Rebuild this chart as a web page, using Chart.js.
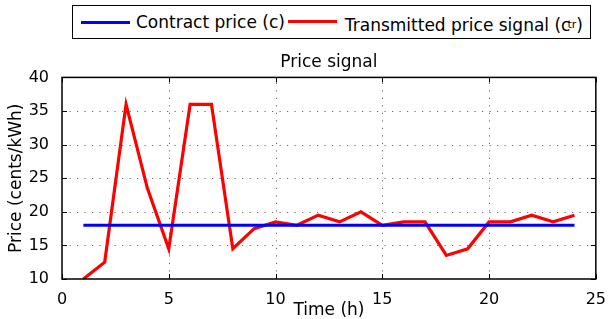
<!DOCTYPE html>
<html>
<head>
<meta charset="utf-8">
<script src="https://cdn.jsdelivr.net/npm/chart.js@4"></script>
<style>
  body { margin: 0; background: #fff; font-family: "DejaVu Sans", sans-serif; }
  #wrap { position: relative; width: 609px; height: 319px; }
  #legend {
    position: absolute; left: 72px; top: 5px; width: 517px; height: 32px;
    border: 1px solid #000; background: #fff; display: flex; align-items: center;
    font-size: 17px; color: #000; white-space: nowrap;
  }
  .item { display: flex; align-items: center; }
  .swatch { display: inline-block; width: 49px; height: 3px; }
  sup { font-size: 11px; margin-left: -3px; }
</style>
</head>
<body>
<div id="wrap">
  <canvas id="priceChart" width="609" height="319"></canvas>
  <div id="legend">
    <span class="item"><span class="swatch" style="background:#0000ff;margin:0 6px 0 8px"></span>Contract price (c)</span>
    <span class="item" style="margin-top:5px"><span class="swatch" style="background:#ff0000;margin:-7px 8px 0 3px"></span>Transmitted price signal (c<sup>tr</sup>)</span>
  </div>
</div>
<script>
const hours = [1, 2, 3, 4, 5, 6, 7, 8, 9, 10, 11, 12, 13, 14, 15, 16, 17, 18, 19, 20, 21, 22, 23, 24];
const contractPrice = [18, 18, 18, 18, 18, 18, 18, 18, 18, 18, 18, 18, 18, 18, 18, 18, 18, 18, 18, 18, 18, 18, 18, 18];
const transmittedPrice = [10, 12.5, 36, 23.5, 14.5, 36, 36, 14.5, 17.5, 18.5, 18, 19.5, 18.5, 20, 18, 18.5, 18.5, 13.5, 14.5, 18.5, 18.5, 19.5, 18.5, 19.5];
const xTicks = [0, 5, 10, 15, 20, 25];
const yTicks = [10, 15, 20, 25, 30, 35, 40];

const fontFamily = '"DejaVu Sans", sans-serif';

// dotted grid, then MATLAB style box with inward ticks on all four sides
const boxPlugin = {
    id: 'boxPlugin',
    beforeDatasetsDraw(chart) {
        const { ctx, chartArea: a, scales } = chart;
        ctx.save();
        ctx.strokeStyle = '#666';
        ctx.lineWidth = 1;
        ctx.setLineDash([1.2, 6.3]);
        ctx.beginPath();
        xTicks.slice(1, -1).forEach(v => {
            const px = Math.round(scales.x.getPixelForValue(v)) + 0.5;
            ctx.moveTo(px, a.bottom); ctx.lineTo(px, a.top);
        });
        yTicks.slice(1, -1).forEach(v => {
            const py = Math.round(scales.y.getPixelForValue(v)) + 0.5;
            ctx.moveTo(a.left, py); ctx.lineTo(a.right, py);
        });
        ctx.stroke();
        ctx.restore();
    },
    afterDatasetsDraw(chart) {
        const { ctx, chartArea: a, scales } = chart;
        ctx.save();
        ctx.strokeStyle = '#000';
        ctx.lineWidth = 1;
        ctx.beginPath();
        xTicks.forEach(v => {
            const px = Math.round(scales.x.getPixelForValue(v)) + 0.5;
            ctx.moveTo(px, a.bottom); ctx.lineTo(px, a.bottom - 5);
            ctx.moveTo(px, a.top); ctx.lineTo(px, a.top + 5);
        });
        yTicks.forEach(v => {
            const py = Math.round(scales.y.getPixelForValue(v)) + 0.5;
            ctx.moveTo(a.left, py); ctx.lineTo(a.left + 5, py);
            ctx.moveTo(a.right, py); ctx.lineTo(a.right - 5, py);
        });
        ctx.stroke();
        ctx.lineWidth = 1.5;
        ctx.strokeRect(a.left, a.top, a.right - a.left, a.bottom - a.top);
        ctx.restore();
    }
};

const ctx = document.getElementById('priceChart').getContext('2d');
new Chart(ctx, {
    type: 'line',
    data: {
        datasets: [
            {
                label: 'Contract price (c)',
                data: hours.map((h, i) => ({ x: h, y: contractPrice[i] })),
                borderColor: '#0000ff', borderWidth: 3.2, pointRadius: 0, tension: 0
            },
            {
                label: 'Transmitted price signal (ctr)',
                data: hours.map((h, i) => ({ x: h, y: transmittedPrice[i] })),
                borderColor: '#ff0000', borderWidth: 3.2, pointRadius: 0, tension: 0
            }
        ]
    },
    options: {
        responsive: false,
        animation: false,
        layout: { padding: { top: 40, left: 0, right: 11, bottom: 0 } },
        plugins: {
            legend: { display: false },
            tooltip: { enabled: false },
            title: {
                display: true, text: 'Price signal', fullSize: false, color: '#000',
                font: { family: fontFamily, size: 17, weight: 'normal', lineHeight: 1.2 },
                padding: { top: 12, bottom: 5 }
            }
        },
        scales: {
            x: {
                type: 'linear', min: 0, max: 25,
                afterBuildTicks: s => { s.ticks = xTicks.map(v => ({ value: v })); },
                afterFit: s => { s.height = 40; },
                grid: { display: false },
                border: { display: false },
                ticks: { color: '#000', padding: 3, maxRotation: 0, font: { family: fontFamily, size: 16 } },
                title: { display: true, text: 'Time (h)', color: '#000', padding: 0, font: { family: fontFamily, size: 17, lineHeight: 1 } }
            },
            y: {
                type: 'linear', min: 10, max: 40,
                afterBuildTicks: s => { s.ticks = yTicks.map(v => ({ value: v })); },
                afterFit: s => { s.width = 62; },
                grid: { display: false },
                border: { display: false },
                ticks: { color: '#000', padding: 5, font: { family: fontFamily, size: 16 } },
                title: { display: true, text: 'Price (cents/kWh)', color: '#000', padding: { top: 6, bottom: 0 }, font: { family: fontFamily, size: 17, lineHeight: 1.2 } }
            }
        }
    },
    plugins: [boxPlugin]
});
</script>
</body>
</html>
